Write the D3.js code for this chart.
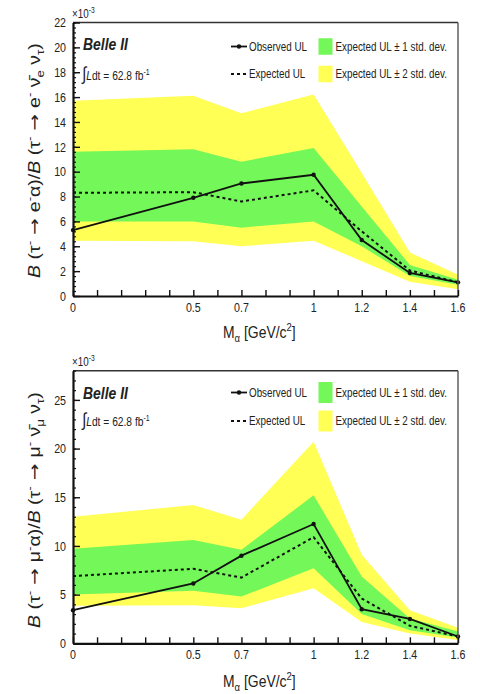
<!DOCTYPE html>
<html><head><meta charset="utf-8">
<script src="https://cdn.jsdelivr.net/npm/d3@7"></script>
<style>
html,body{margin:0;padding:0;background:#fff;}
svg{display:block;font-family:"Liberation Sans",Arial,sans-serif;}
</style></head>
<body><svg id="c" width="480" height="694"></svg>
<script>
// ---- data ----
const mass = [0, 0.5, 0.7, 1.0, 1.2, 1.4, 1.6];
const xTickLabels = [0, 0.5, 0.7, 1, 1.2, 1.4, 1.6];

// tau -> e alpha (x1e-3)
const obsE  = [5.3, 7.9, 9.05, 9.75, 4.5, 1.85, 1.1];
const expE  = [8.3, 8.35, 7.6, 8.5, 5.2, 2.05, 1.1];
const s1HiE = [11.6, 11.8, 10.8, 11.9, 7.2, 2.5, 1.3];
const s1LoE = [6.0, 6.0, 5.5, 6.0, 4.0, 1.6, 0.9];
const s2HiE = [15.7, 16.1, 14.7, 16.2, 9.9, 3.5, 1.7];
const s2LoE = [4.45, 4.4, 4.0, 4.45, 2.8, 1.15, 0.55];
const yTicksE = [0,2,4,6,8,10,12,14,16,18,20,22];

// tau -> mu alpha (x1e-3)
const obsMu  = [3.4, 6.15, 9.0, 12.25, 3.5, 2.5, 0.7];
const expMu  = [6.9, 7.65, 6.75, 10.9, 4.6, 1.8, 0.7];
const s1HiMu = [9.7, 10.6, 9.6, 15.2, 6.85, 2.55, 1.2];
const s1LoMu = [5.0, 5.4, 4.8, 7.7, 3.0, 1.35, 0.6];
const s2HiMu = [13.0, 14.2, 12.7, 20.7, 9.1, 3.4, 1.6];
const s2LoMu = [3.85, 3.9, 3.6, 5.65, 2.2, 1.0, 0.35];
const yTicksMu = [0,5,10,15,20,25];

const legendLabels = ["Observed UL", "Expected UL", "Expected UL \u00b1 1 std. dev.", "Expected UL \u00b1 2 std. dev."];

// ---- style ----
const GREEN = "#74f759", YELLOW = "#ffff55";
const SX = 0.82; // horizontal condensation of text

const svg = d3.select("#c");

function ctext(g, x, y, segs, o) {
  o = o || {};
  const fs = o.size || 12;
  const tr = `translate(${x},${y})` + (o.rotate ? ` rotate(${o.rotate}) scale(1,${SX})` : ` scale(${SX},1)`);
  const t = g.append("text")
    .attr("transform", tr)
    .attr("font-size", fs)
    .attr("text-anchor", o.anchor || "start")
    .attr("fill", "#222");
  if (o.weight) t.attr("font-weight", o.weight);
  if (o.style) t.attr("font-style", o.style);
  if (o.dy) t.attr("dy", o.dy);
  if (typeof segs === "string") segs = [{t: segs}];
  let shift = 0;
  segs.forEach(s => {
    const sp = t.append("tspan").text(s.t);
    let target = 0;
    if (s.s === "sup") { target = -fs * 0.42; sp.attr("font-size", fs * 0.68); }
    else if (s.s === "sub") { target = fs * 0.25; sp.attr("font-size", fs * 0.68); }
    if (target !== shift) { sp.attr("dy", target - shift); shift = target; }
    if (s.i) sp.attr("font-style", "italic");
    if (s.big) sp.attr("font-size", fs * s.big);
    if (s.f) sp.attr("font-family", s.f);
  });
  return t;
}

function panel(cfg) {
  const g = svg.append("g");
  const x = d3.scaleLinear().domain([0, 1.6]).range([cfg.left, cfg.right]);
  const y = d3.scaleLinear().domain([0, cfg.ymax]).range([cfg.bottom, cfg.top]);
  const idx = d3.range(mass.length);

  const area = (hi, lo) => d3.area().x(i => x(mass[i])).y0(i => y(lo[i])).y1(i => y(hi[i]))(idx);
  g.append("path").attr("d", area(cfg.s2Hi, cfg.s2Lo)).attr("fill", YELLOW);
  g.append("path").attr("d", area(cfg.s1Hi, cfg.s1Lo)).attr("fill", GREEN);

  const line = arr => d3.line().x(i => x(mass[i])).y(i => y(arr[i]))(idx);
  g.append("path").attr("d", line(cfg.exp)).attr("fill", "none").attr("stroke", "#111")
    .attr("stroke-width", 2).attr("stroke-dasharray", "3,3");
  g.append("path").attr("d", line(cfg.obs)).attr("fill", "none").attr("stroke", "#111")
    .attr("stroke-width", 1.8);
  g.selectAll("circle.m").data(idx).enter().append("circle")
    .attr("cx", i => x(mass[i])).attr("cy", i => y(cfg.obs[i])).attr("r", 2.2).attr("fill", "#111");

  // frame top/right
  g.append("line").attr("x1", cfg.left).attr("x2", cfg.right).attr("y1", cfg.top).attr("y2", cfg.top)
    .attr("stroke", "#333").attr("stroke-width", 1.6);
  g.append("line").attr("x1", cfg.right).attr("x2", cfg.right).attr("y1", cfg.top).attr("y2", cfg.bottom)
    .attr("stroke", "#555").attr("stroke-width", 1.4);

  // y axis (ticks inside)
  const minor = d3.range(0, cfg.ymax + 1e-6, cfg.minor);
  g.append("g").attr("transform", `translate(${cfg.left},0)`)
    .call(d3.axisLeft(y).tickValues(minor).tickSize(-3).tickFormat("").tickSizeOuter(0))
    .call(a => a.select(".domain").remove())
    .selectAll("line").attr("stroke", "#111").attr("stroke-width", 1.2);
  g.append("g").attr("transform", `translate(${cfg.left},0)`)
    .call(d3.axisLeft(y).tickValues(cfg.yticks).tickSize(-7).tickFormat("").tickSizeOuter(0))
    .call(a => a.select(".domain").attr("stroke", "#111").attr("stroke-width", 2.2))
    .selectAll("line").attr("stroke", "#111").attr("stroke-width", 1.4);
  cfg.yticks.forEach(v => ctext(g, 66, y(v), String(v), {size: 13, anchor: "end", dy: "0.36em"}));

  // x axis
  g.append("g").attr("transform", `translate(0,${cfg.bottom})`)
    .call(d3.axisBottom(x).tickValues(d3.range(0, 16.01, 1).map(v => v / 10)).tickSize(-6).tickFormat("").tickSizeOuter(0))
    .call(a => a.select(".domain").attr("stroke", "#111").attr("stroke-width", 2.2))
    .selectAll("line").attr("stroke", "#111").attr("stroke-width", 1.4);
  xTickLabels.forEach(v => ctext(g, x(v), cfg.bottom + 15.5, String(v), {size: 13, anchor: "middle"}));

  // x title
  ctext(g, 223, cfg.xTitleY, [{t: "M"}, {t: "\u03b1", s: "sub"}, {t: " [GeV/c"}, {t: "2", s: "sup"}, {t: "]"}], {size: 17});

  // y title
  ctext(g, 40, cfg.yTitleStart, cfg.yTitle, {size: 19.5, rotate: -90});

  // exponent
  ctext(g, cfg.left - 1, cfg.top - 4.5, [{t: "\u00d710"}, {t: "-3", s: "sup"}], {size: 12});

  // Belle II
  ctext(g, 83, cfg.belleY, "Belle II", {size: 17, weight: "bold", style: "italic"});
  ctext(g, 82, cfg.lumiY, [{t: "\u222b", big: 1.5}, {t: "L", i: true}, {t: "dt = 62.8 fb"}, {t: "-1", s: "sup"}], {size: 12.5});

  // legend
  const L = cfg.leg;
  g.append("line").attr("x1", 231).attr("x2", 247).attr("y1", L.r1).attr("y2", L.r1).attr("stroke", "#111").attr("stroke-width", 1.8);
  g.append("circle").attr("cx", 239).attr("cy", L.r1).attr("r", 2.2).attr("fill", "#111");
  g.append("line").attr("x1", 231).attr("x2", 247).attr("y1", L.r2).attr("y2", L.r2).attr("stroke", "#111")
    .attr("stroke-width", 1.8).attr("stroke-dasharray", "3,3");
  ctext(g, 249, L.r1, legendLabels[0], {size: 12, dy: "0.36em"});
  ctext(g, 249, L.r2, legendLabels[1], {size: 12, dy: "0.36em"});
  g.append("rect").attr("x", 318.5).attr("y", L.r1 - L.h / 2).attr("width", 14).attr("height", L.h).attr("fill", GREEN);
  g.append("rect").attr("x", 318.5).attr("y", L.r2 - L.h / 2).attr("width", 14).attr("height", L.h).attr("fill", YELLOW);
  ctext(g, 335.5, L.r1, legendLabels[2], {size: 12, dy: "0.36em"});
  ctext(g, 335.5, L.r2, legendLabels[3], {size: 12, dy: "0.36em"});
}

const ARROW = {t: " \u2192 ", f: "DejaVu Sans"};

panel({
  left: 73, right: 458, top: 22.5, bottom: 296, ymax: 22, minor: 0.4, yticks: yTicksE,
  obs: obsE, exp: expE, s1Hi: s1HiE, s1Lo: s1LoE, s2Hi: s2HiE, s2Lo: s2LoE,
  xTitleY: 338, yTitleStart: 278, belleY: 50, lumiY: 80,
  leg: {r1: 46.5, r2: 74, h: 16.5},
  yTitle: [{t: "B", i: true}, {t: " (\u03c4"}, {t: "-", s: "sup"}, ARROW, {t: "e"}, {t: "-", s: "sup"}, {t: "\u03b1)/"},
           {t: "B", i: true}, {t: " (\u03c4"}, {t: "-", s: "sup"}, ARROW, {t: "e"}, {t: "-", s: "sup"}, {t: " \u03bd\u0304"},
           {t: "e", s: "sub"}, {t: " \u03bd"}, {t: "\u03c4", s: "sub"}, {t: ")"}]
});

panel({
  left: 73, right: 458, top: 370.7, bottom: 643.3, ymax: 28, minor: 1, yticks: yTicksMu,
  obs: obsMu, exp: expMu, s1Hi: s1HiMu, s1Lo: s1LoMu, s2Hi: s2HiMu, s2Lo: s2LoMu,
  xTitleY: 687, yTitleStart: 628, belleY: 398.5, lumiY: 426,
  leg: {r1: 392.5, r2: 421, h: 21},
  yTitle: [{t: "B", i: true}, {t: " (\u03c4"}, {t: "-", s: "sup"}, ARROW, {t: "\u03bc"}, {t: "-", s: "sup"}, {t: "\u03b1)/"},
           {t: "B", i: true}, {t: " (\u03c4"}, {t: "-", s: "sup"}, ARROW, {t: "\u03bc"}, {t: "-", s: "sup"}, {t: " \u03bd\u0304"},
           {t: "\u03bc", s: "sub"}, {t: " \u03bd"}, {t: "\u03c4", s: "sub"}, {t: ")"}]
});
</script></body></html>
